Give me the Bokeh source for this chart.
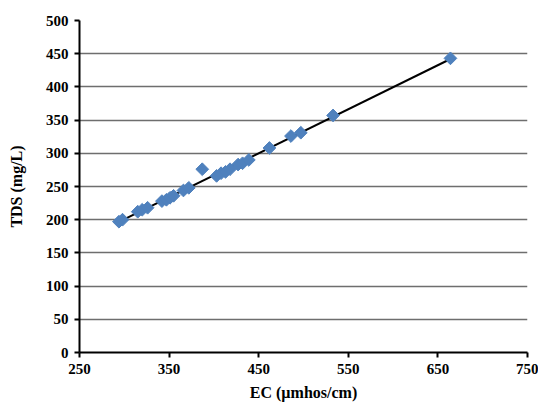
import numpy as np
from bokeh.plotting import figure
from bokeh.models import Range1d, FixedTicker
from bokeh.embed import file_html
from bokeh.resources import INLINE

ec = [294, 298, 315, 320, 326, 342, 347, 351, 355, 366, 372, 387, 403, 408, 413, 418, 427, 432, 439, 462, 486, 497, 533, 664]
tds = [197, 200, 212, 215, 218, 228, 230, 233, 236, 244, 248, 276, 266, 270, 272, 276, 283, 285, 290, 308, 326, 331, 357, 443]
x_ticks = [250, 350, 450, 550, 650, 750]
y_ticks = [0, 50, 100, 150, 200, 250, 300, 350, 400, 450, 500]

slope, intercept = np.polyfit(ec, tds, 1)
fit_x = [min(ec), max(ec)]
fit_y = [slope * v + intercept for v in fit_x]

p = figure(width=538, height=403, output_backend="svg", toolbar_location=None,
           x_range=Range1d(250, 750), y_range=Range1d(0, 500),
           min_border_left=79, min_border_right=11, min_border_top=20, min_border_bottom=51)
p.outline_line_color = None
p.background_fill_color = "white"
p.border_fill_color = "white"

p.xgrid.grid_line_color = None
p.ygrid.grid_line_color = "#6e6e6e"
p.ygrid.grid_line_width = 1.5
p.ygrid.ticker = FixedTicker(ticks=y_ticks)

p.line(fit_x, fit_y, line_color="black", line_width=2)
p.scatter(ec, tds, marker="square", angle=np.pi / 4, size=9,
          fill_color="#4F81BD", line_color="#4F81BD")

font = "Liberation Serif"
for ax in (p.xaxis[0], p.yaxis[0]):
    ax.axis_line_color = "black"
    ax.axis_line_width = 2
    ax.major_tick_line_color = "black"
    ax.major_tick_line_width = 2
    ax.major_tick_out = 5
    ax.major_tick_in = 0
    ax.minor_tick_line_color = None
    ax.major_label_text_font = font
    ax.major_label_text_font_style = "bold"
    ax.major_label_text_font_size = "15px"
    ax.major_label_text_color = "black"
    ax.axis_label_text_font = font
    ax.axis_label_text_font_style = "bold"
    ax.axis_label_text_font_size = "16px"
    ax.axis_label_text_color = "black"

p.xaxis[0].ticker = FixedTicker(ticks=x_ticks)
p.yaxis[0].ticker = FixedTicker(ticks=y_ticks)
p.xaxis[0].axis_label = "EC (µmhos/cm)"
p.yaxis[0].axis_label = "TDS (mg/L)"
p.xaxis[0].major_label_standoff = 6
p.yaxis[0].major_label_standoff = 6
p.xaxis[0].axis_label_standoff = 7
p.yaxis[0].axis_label_standoff = 18

open("out.html", "w").write(file_html(p, INLINE))
